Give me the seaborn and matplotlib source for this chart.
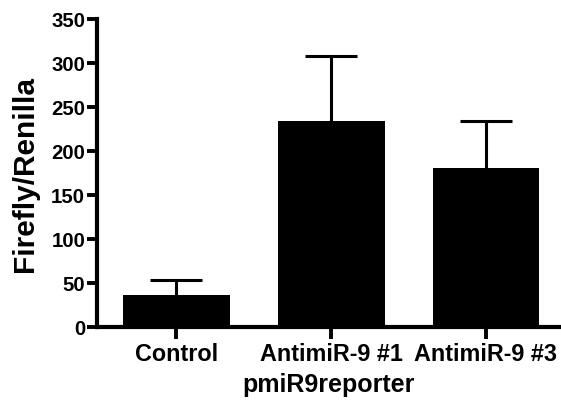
import matplotlib
matplotlib.use("Agg")
import matplotlib.pyplot as plt
import seaborn as sns
import pandas as pd
import numpy as np

categories = ["Control", "AntimiR-9 #1", "AntimiR-9 #3"]
means = [36.5, 233.5, 180.0]
errors_up = [17.0, 74.5, 54.0]
y_ticks = [0, 50, 100, 150, 200, 250, 300, 350]

sns.set_style("ticks")
plt.rcParams['font.family'] = ['Liberation Sans', 'DejaVu Sans']
plt.rcParams['font.weight'] = 'bold'
plt.rcParams['text.color'] = 'black'
plt.rcParams['axes.labelcolor'] = 'black'
plt.rcParams['xtick.color'] = 'black'
plt.rcParams['ytick.color'] = 'black'
plt.rcParams['axes.edgecolor'] = 'black'

df = pd.DataFrame({"group": categories, "value": means})

fig = plt.figure(figsize=(5.61, 4.10), dpi=100)
ax = fig.add_axes([0.173, 0.2, 0.827, 0.752])

sns.barplot(data=df, x="group", y="value", color="black", width=0.69,
            saturation=1, errorbar=None, ax=ax, zorder=2)
for p in ax.patches:
    p.set_linewidth(0)

xs = np.arange(len(categories))
eb = ax.errorbar(xs, means, yerr=[np.zeros(len(means)), errors_up], fmt="none",
                 ecolor="black", elinewidth=2.2, capsize=18.5, capthick=2.2, zorder=1)
# hide the lower caps (at bar tops)
caplines = eb[1]
for cl in caplines:
    yd = np.asarray(cl.get_ydata(), dtype=float)
    if np.allclose(yd, means):
        cl.set_visible(False)

ax.set_xlim(-0.51, 2.484)
ax.set_ylim(0, 350)
ax.set_yticks(y_ticks)
ax.set_yticklabels([str(t) for t in y_ticks], fontsize=14.7, fontweight="bold", color="black")
ax.set_xticks(xs)
ax.set_xticklabels(categories, fontsize=16.8, fontweight="bold", color="black")

sns.despine(ax=ax)
for s in ["left", "bottom"]:
    ax.spines[s].set_linewidth(3.0)
    ax.spines[s].set_color("black")
ax.tick_params(axis="y", length=7.5, width=2.8, color="black", labelcolor="black", pad=1)
ax.tick_params(axis="x", length=8.5, width=2.8, color="black", labelcolor="black", pad=2)

ax.set_xlabel("pmiR9reporter", fontsize=18, fontweight="bold", labelpad=5, color="black")
ax.set_ylabel("Firefly/Renilla", fontsize=21.5, fontweight="bold", labelpad=9, color="black")

fig.savefig("out.png", dpi=100)
